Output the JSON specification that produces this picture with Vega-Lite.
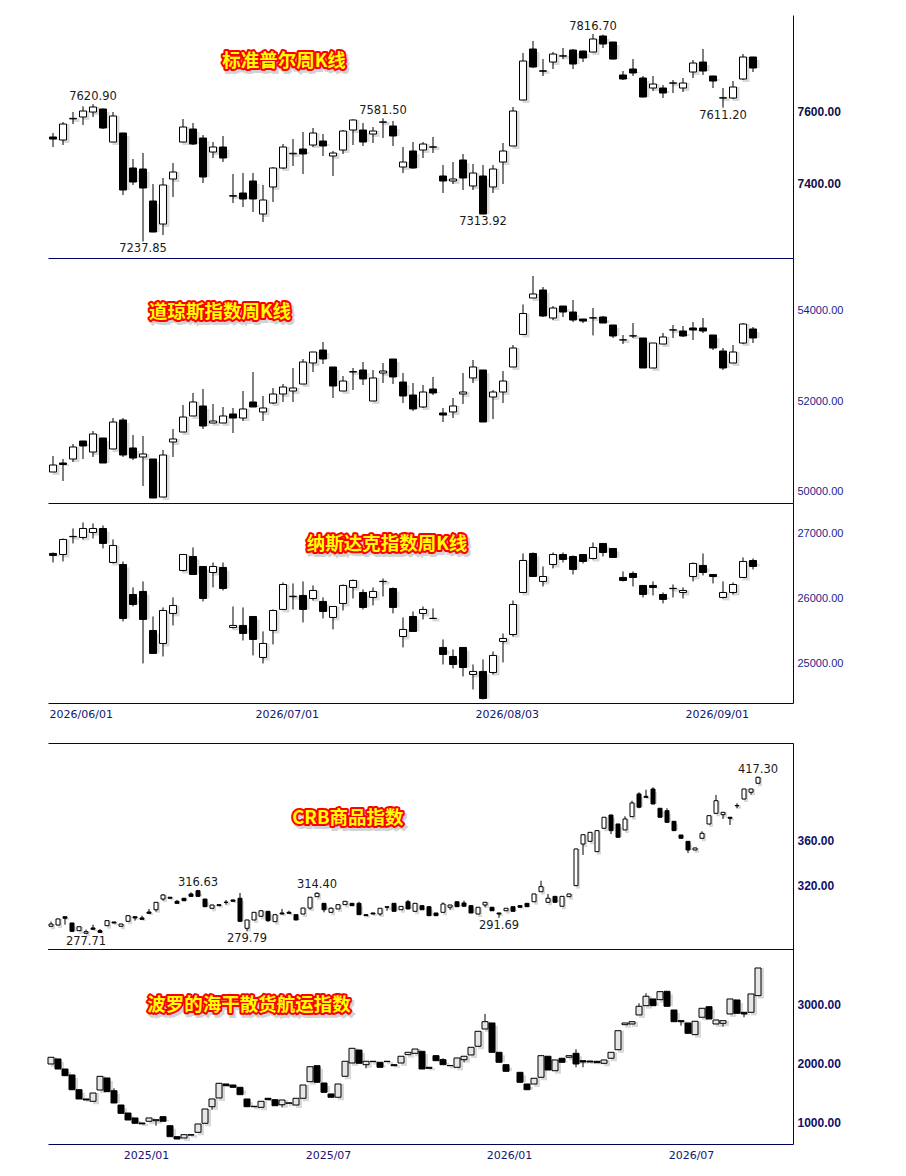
{
"$schema": "https://vega.github.io/schema/vega-lite/v6.json",
"padding": {"left": 47, "top": 15, "right": 5, "bottom": 5},
"background": "white",
"config": {"view": {"stroke": null}, "axis": {"grid": false}, "scale": {"continuousPadding": 0}},
"datasets": {
"titles": [
{"p":"spx","t":"标准普尔周K线","i":23.1,"v":7741},
{"p":"dji","t":"道琼斯指数周K线","i":16.7,"v":53963},
{"p":"ixic","t":"纳斯达克指数周K线","i":33.4,"v":26837},
{"p":"crb","t":"CRB商品指数","i":42.4,"v":380.4},
{"p":"bdi","t":"波罗的海干散货航运指数","i":28.3,"v":3000}
],
"notes": [
{"p":"spx","i":4,"v":7620.90,"kind":"high"},
{"p":"spx","i":9,"v":7237.85,"kind":"low"},
{"p":"spx","i":33,"v":7581.50,"kind":"high"},
{"p":"spx","i":43,"v":7313.92,"kind":"low"},
{"p":"spx","i":54,"v":7816.70,"kind":"high"},
{"p":"spx","i":67,"v":7611.20,"kind":"low"},
{"p":"crb","i":21,"v":316.63,"kind":"high"},
{"p":"crb","i":5,"v":277.71,"kind":"low"},
{"p":"crb","i":28,"v":279.79,"kind":"low"},
{"p":"crb","i":38,"v":314.40,"kind":"high"},
{"p":"crb","i":64,"v":291.69,"kind":"low"},
{"p":"crb","i":101,"v":417.30,"kind":"high"}
],
"spx": [
{"i":0,"o":7529.4,"h":7540.5,"l":7501.5,"c":7523.8},
{"i":1,"o":7521.0,"h":7571.2,"l":7507.0,"c":7565.6},
{"i":2,"o":7580.0,"h":7599.1,"l":7565.6,"c":7581.5},
{"i":3,"o":7585.2,"h":7615.0,"l":7562.8,"c":7601.9},
{"i":4,"o":7599.1,"h":7620.9,"l":7585.2,"c":7613.1},
{"i":5,"o":7607.5,"h":7608.5,"l":7551.7,"c":7554.5},
{"i":6,"o":7515.4,"h":7599.1,"l":7515.0,"c":7588.0},
{"i":7,"o":7540.5,"h":7541.5,"l":7367.5,"c":7381.5},
{"i":8,"o":7442.9,"h":7468.0,"l":7395.5,"c":7403.8},
{"i":9,"o":7440.1,"h":7484.7,"l":7237.85,"c":7387.1},
{"i":10,"o":7350.8,"h":7398.2,"l":7263.5,"c":7264.3},
{"i":11,"o":7286.6,"h":7415.0,"l":7255.9,"c":7395.5},
{"i":12,"o":7412.2,"h":7456.8,"l":7362.0,"c":7431.7},
{"i":13,"o":7515.4,"h":7579.6,"l":7514.5,"c":7557.3},
{"i":14,"o":7551.7,"h":7568.4,"l":7507.0,"c":7509.8},
{"i":15,"o":7526.6,"h":7534.9,"l":7401.0,"c":7417.8},
{"i":16,"o":7487.5,"h":7515.4,"l":7470.8,"c":7501.5},
{"i":17,"o":7501.5,"h":7532.2,"l":7459.6,"c":7470.8},
{"i":18,"o":7365.5,"h":7426.1,"l":7345.2,"c":7364.5},
{"i":19,"o":7373.1,"h":7428.9,"l":7334.1,"c":7356.4},
{"i":20,"o":7406.6,"h":7428.9,"l":7320.1,"c":7356.4},
{"i":21,"o":7314.5,"h":7395.5,"l":7292.2,"c":7353.6},
{"i":22,"o":7389.9,"h":7445.7,"l":7348.0,"c":7442.9},
{"i":23,"o":7442.9,"h":7509.8,"l":7440.1,"c":7501.5},
{"i":24,"o":7482.5,"h":7523.8,"l":7448.5,"c":7484.0},
{"i":25,"o":7495.9,"h":7543.3,"l":7426.1,"c":7482.0},
{"i":26,"o":7507.0,"h":7554.5,"l":7501.5,"c":7540.5},
{"i":27,"o":7518.2,"h":7537.7,"l":7476.4,"c":7504.3},
{"i":28,"o":7476.4,"h":7490.3,"l":7420.6,"c":7484.7},
{"i":29,"o":7493.1,"h":7548.9,"l":7482.0,"c":7546.1},
{"i":30,"o":7548.9,"h":7579.0,"l":7507.0,"c":7576.8},
{"i":31,"o":7548.9,"h":7568.4,"l":7504.3,"c":7515.4},
{"i":32,"o":7537.7,"h":7557.3,"l":7512.6,"c":7546.1},
{"i":33,"o":7570.5,"h":7581.5,"l":7526.6,"c":7571.5},
{"i":34,"o":7560.1,"h":7574.0,"l":7504.3,"c":7532.2},
{"i":35,"o":7445.7,"h":7501.5,"l":7428.9,"c":7459.6},
{"i":36,"o":7490.3,"h":7515.4,"l":7441.0,"c":7442.9},
{"i":37,"o":7493.1,"h":7515.4,"l":7470.8,"c":7509.8},
{"i":38,"o":7501.0,"h":7529.4,"l":7484.7,"c":7502.0},
{"i":39,"o":7420.6,"h":7451.2,"l":7373.1,"c":7406.6},
{"i":40,"o":7406.6,"h":7459.6,"l":7398.2,"c":7412.2},
{"i":41,"o":7465.2,"h":7482.0,"l":7381.5,"c":7415.0},
{"i":42,"o":7392.7,"h":7454.0,"l":7381.5,"c":7428.9},
{"i":43,"o":7420.6,"h":7451.2,"l":7313.92,"c":7314.5},
{"i":44,"o":7389.9,"h":7451.2,"l":7373.1,"c":7440.1},
{"i":45,"o":7459.6,"h":7512.6,"l":7398.2,"c":7490.3},
{"i":46,"o":7504.3,"h":7613.1,"l":7504.0,"c":7601.9},
{"i":47,"o":7632.6,"h":7763.7,"l":7632.0,"c":7741.4},
{"i":48,"o":7774.9,"h":7797.2,"l":7721.9,"c":7724.7},
{"i":49,"o":7714.0,"h":7746.9,"l":7699.6,"c":7713.0},
{"i":50,"o":7738.6,"h":7766.5,"l":7719.1,"c":7760.9},
{"i":51,"o":7755.0,"h":7777.7,"l":7746.9,"c":7756.0},
{"i":52,"o":7772.1,"h":7774.9,"l":7719.1,"c":7733.0},
{"i":53,"o":7769.3,"h":7770.0,"l":7738.6,"c":7749.8},
{"i":54,"o":7766.5,"h":7816.7,"l":7766.0,"c":7802.8},
{"i":55,"o":7811.2,"h":7815.0,"l":7777.7,"c":7788.8},
{"i":56,"o":7794.4,"h":7795.0,"l":7746.0,"c":7746.9},
{"i":57,"o":7702.4,"h":7713.5,"l":7688.4,"c":7691.2},
{"i":58,"o":7719.1,"h":7746.9,"l":7699.6,"c":7708.0},
{"i":59,"o":7694.0,"h":7699.6,"l":7640.0,"c":7641.0},
{"i":60,"o":7666.1,"h":7699.6,"l":7657.7,"c":7677.2},
{"i":61,"o":7666.1,"h":7674.4,"l":7638.2,"c":7652.1},
{"i":62,"o":7679.5,"h":7688.4,"l":7652.1,"c":7680.5},
{"i":63,"o":7666.1,"h":7694.0,"l":7654.9,"c":7680.0},
{"i":64,"o":7710.8,"h":7744.2,"l":7694.0,"c":7735.8},
{"i":65,"o":7738.6,"h":7774.9,"l":7702.4,"c":7713.5},
{"i":66,"o":7699.6,"h":7700.0,"l":7666.1,"c":7685.6},
{"i":67,"o":7638.0,"h":7666.1,"l":7611.2,"c":7639.0},
{"i":68,"o":7638.2,"h":7685.6,"l":7635.4,"c":7668.9},
{"i":69,"o":7691.2,"h":7760.9,"l":7688.4,"c":7752.6},
{"i":70,"o":7752.6,"h":7753.0,"l":7710.8,"c":7721.9}
],
"dji": [
{"i":0,"o":50438,"h":50790,"l":50438,"c":50592},
{"i":1,"o":50636,"h":50724,"l":50240,"c":50603},
{"i":2,"o":50724,"h":51055,"l":50658,"c":50989},
{"i":3,"o":51121,"h":51121,"l":50724,"c":51011},
{"i":4,"o":50878,"h":51341,"l":50768,"c":51275},
{"i":5,"o":51187,"h":51187,"l":50636,"c":50636},
{"i":6,"o":50945,"h":51627,"l":50945,"c":51539},
{"i":7,"o":51583,"h":51627,"l":50768,"c":50812},
{"i":8,"o":50967,"h":51253,"l":50702,"c":50746},
{"i":9,"o":50768,"h":51231,"l":50129,"c":50835},
{"i":10,"o":50724,"h":50724,"l":49865,"c":49865},
{"i":11,"o":49887,"h":50922,"l":49887,"c":50812},
{"i":12,"o":51099,"h":51385,"l":50768,"c":51165},
{"i":13,"o":51319,"h":51914,"l":51319,"c":51649},
{"i":14,"o":51672,"h":52178,"l":51672,"c":51980},
{"i":15,"o":51892,"h":52266,"l":51385,"c":51451},
{"i":16,"o":51517,"h":51936,"l":51517,"c":51561},
{"i":17,"o":51517,"h":51870,"l":51517,"c":51672},
{"i":18,"o":51716,"h":51848,"l":51297,"c":51627},
{"i":19,"o":51627,"h":52222,"l":51561,"c":51826},
{"i":20,"o":51980,"h":52640,"l":51870,"c":51870},
{"i":21,"o":51760,"h":52112,"l":51561,"c":51848},
{"i":22,"o":51958,"h":52288,"l":51936,"c":52156},
{"i":23,"o":52156,"h":52376,"l":51980,"c":52310},
{"i":24,"o":52222,"h":52729,"l":51980,"c":52288},
{"i":25,"o":52376,"h":52927,"l":52376,"c":52861},
{"i":26,"o":52839,"h":53081,"l":52640,"c":53081},
{"i":27,"o":53125,"h":53301,"l":52817,"c":52927},
{"i":28,"o":52751,"h":52751,"l":52068,"c":52332},
{"i":29,"o":52222,"h":52552,"l":52222,"c":52442},
{"i":30,"o":52640,"h":52729,"l":52244,"c":52650},
{"i":31,"o":52685,"h":52861,"l":52354,"c":52487},
{"i":32,"o":52002,"h":52685,"l":52002,"c":52509},
{"i":33,"o":52618,"h":52839,"l":52398,"c":52662},
{"i":34,"o":52927,"h":52927,"l":52376,"c":52531},
{"i":35,"o":52420,"h":52618,"l":51958,"c":52112},
{"i":36,"o":52134,"h":52398,"l":51782,"c":51826},
{"i":37,"o":51870,"h":52354,"l":51848,"c":52200},
{"i":38,"o":52266,"h":52531,"l":52134,"c":52178},
{"i":39,"o":51738,"h":51848,"l":51539,"c":51694},
{"i":40,"o":51760,"h":52068,"l":51627,"c":51892},
{"i":41,"o":52156,"h":52618,"l":51936,"c":52200},
{"i":42,"o":52509,"h":52905,"l":52398,"c":52751},
{"i":43,"o":52685,"h":52685,"l":51539,"c":51539},
{"i":44,"o":52090,"h":52244,"l":51605,"c":52200},
{"i":45,"o":52200,"h":52662,"l":51958,"c":52442},
{"i":46,"o":52751,"h":53235,"l":52751,"c":53169},
{"i":47,"o":53468,"h":54128,"l":53468,"c":53930},
{"i":48,"o":54271,"h":54756,"l":54271,"c":54359},
{"i":49,"o":54447,"h":54513,"l":53852,"c":53874},
{"i":50,"o":53830,"h":54094,"l":53786,"c":54050},
{"i":51,"o":54094,"h":54094,"l":53852,"c":53962},
{"i":52,"o":53962,"h":54227,"l":53742,"c":53786},
{"i":53,"o":53808,"h":53808,"l":53720,"c":53764},
{"i":54,"o":53830,"h":54050,"l":53446,"c":53835},
{"i":55,"o":53852,"h":53874,"l":53720,"c":53720},
{"i":56,"o":53676,"h":53676,"l":53390,"c":53434},
{"i":57,"o":53346,"h":53456,"l":53258,"c":53350},
{"i":58,"o":53434,"h":53720,"l":53390,"c":53438},
{"i":59,"o":53390,"h":53390,"l":52729,"c":52729},
{"i":60,"o":52729,"h":53279,"l":52729,"c":53279},
{"i":61,"o":53257,"h":53500,"l":53257,"c":53412},
{"i":62,"o":53565,"h":53676,"l":53390,"c":53570},
{"i":63,"o":53544,"h":53654,"l":53412,"c":53434},
{"i":64,"o":53610,"h":53742,"l":53346,"c":53566},
{"i":65,"o":53610,"h":53830,"l":53500,"c":53544},
{"i":66,"o":53456,"h":53456,"l":53125,"c":53169},
{"i":67,"o":53103,"h":53169,"l":52685,"c":52729},
{"i":68,"o":52839,"h":53235,"l":52839,"c":53081},
{"i":69,"o":53279,"h":53720,"l":53257,"c":53698},
{"i":70,"o":53588,"h":53632,"l":53279,"c":53390}
],
"ixic": [
{"i":0,"o":26698,"h":26713,"l":26558,"c":26667},
{"i":1,"o":26682,"h":26930,"l":26574,"c":26915},
{"i":2,"o":26958,"h":27085,"l":26853,"c":26962},
{"i":3,"o":26946,"h":27178,"l":26915,"c":27085},
{"i":4,"o":27023,"h":27163,"l":26930,"c":27085},
{"i":5,"o":27085,"h":27132,"l":26775,"c":26853},
{"i":6,"o":26558,"h":26915,"l":26543,"c":26822},
{"i":7,"o":26527,"h":26574,"l":25644,"c":25690},
{"i":8,"o":26062,"h":26171,"l":25876,"c":25907},
{"i":9,"o":26109,"h":26264,"l":24993,"c":25675},
{"i":10,"o":25504,"h":25721,"l":25148,"c":25148},
{"i":11,"o":25303,"h":25861,"l":25101,"c":25814},
{"i":12,"o":25768,"h":26016,"l":25582,"c":25892},
{"i":13,"o":26434,"h":26682,"l":26419,"c":26682},
{"i":14,"o":26651,"h":26791,"l":26372,"c":26372},
{"i":15,"o":26496,"h":26496,"l":25954,"c":26000},
{"i":16,"o":26403,"h":26558,"l":26171,"c":26496},
{"i":17,"o":26481,"h":26558,"l":26124,"c":26155},
{"i":18,"o":25551,"h":25876,"l":25535,"c":25582},
{"i":19,"o":25582,"h":25861,"l":25349,"c":25458},
{"i":20,"o":25721,"h":25721,"l":25117,"c":25365},
{"i":21,"o":25086,"h":25489,"l":24993,"c":25303},
{"i":22,"o":25504,"h":25830,"l":25287,"c":25814},
{"i":23,"o":25830,"h":26248,"l":25830,"c":26217},
{"i":24,"o":26028,"h":26233,"l":25830,"c":26035},
{"i":25,"o":26047,"h":26264,"l":25628,"c":25830},
{"i":26,"o":26000,"h":26202,"l":25969,"c":26124},
{"i":27,"o":25954,"h":26016,"l":25690,"c":25799},
{"i":28,"o":25706,"h":25876,"l":25520,"c":25876},
{"i":29,"o":25923,"h":26217,"l":25814,"c":26202},
{"i":30,"o":26171,"h":26295,"l":26000,"c":26279},
{"i":31,"o":26093,"h":26140,"l":25830,"c":25861},
{"i":32,"o":26016,"h":26171,"l":25892,"c":26109},
{"i":33,"o":26262,"h":26310,"l":26031,"c":26266},
{"i":34,"o":26155,"h":26171,"l":25768,"c":25861},
{"i":35,"o":25411,"h":25706,"l":25241,"c":25520},
{"i":36,"o":25721,"h":25799,"l":25489,"c":25489},
{"i":37,"o":25768,"h":25876,"l":25675,"c":25830},
{"i":38,"o":25690,"h":25845,"l":25690,"c":25692},
{"i":39,"o":25241,"h":25365,"l":24977,"c":25132},
{"i":40,"o":25101,"h":25210,"l":24915,"c":24977},
{"i":41,"o":25241,"h":25241,"l":24791,"c":24930},
{"i":42,"o":24822,"h":24977,"l":24590,"c":24869},
{"i":43,"o":24869,"h":25055,"l":24435,"c":24450},
{"i":44,"o":24853,"h":25179,"l":24822,"c":25117},
{"i":45,"o":25334,"h":25458,"l":25008,"c":25380},
{"i":46,"o":25442,"h":25969,"l":25411,"c":25907},
{"i":47,"o":26093,"h":26698,"l":26093,"c":26589},
{"i":48,"o":26698,"h":26713,"l":26341,"c":26341},
{"i":49,"o":26264,"h":26496,"l":26186,"c":26341},
{"i":50,"o":26527,"h":26713,"l":26465,"c":26682},
{"i":51,"o":26682,"h":26713,"l":26558,"c":26605},
{"i":52,"o":26651,"h":26667,"l":26372,"c":26450},
{"i":53,"o":26682,"h":26682,"l":26543,"c":26574},
{"i":54,"o":26620,"h":26868,"l":26605,"c":26791},
{"i":55,"o":26853,"h":26853,"l":26651,"c":26713},
{"i":56,"o":26775,"h":26775,"l":26636,"c":26636},
{"i":57,"o":26326,"h":26419,"l":26264,"c":26279},
{"i":58,"o":26388,"h":26419,"l":26186,"c":26326},
{"i":59,"o":26202,"h":26202,"l":26016,"c":26062},
{"i":60,"o":26202,"h":26264,"l":26047,"c":26171},
{"i":61,"o":26062,"h":26093,"l":25923,"c":25985},
{"i":62,"o":26153,"h":26217,"l":26016,"c":26157},
{"i":63,"o":26093,"h":26171,"l":26000,"c":26124},
{"i":64,"o":26341,"h":26558,"l":26264,"c":26543},
{"i":65,"o":26512,"h":26698,"l":26357,"c":26403},
{"i":66,"o":26372,"h":26372,"l":26233,"c":26341},
{"i":67,"o":26016,"h":26264,"l":26000,"c":26093},
{"i":68,"o":26093,"h":26248,"l":26062,"c":26217},
{"i":69,"o":26326,"h":26636,"l":26326,"c":26574},
{"i":70,"o":26589,"h":26620,"l":26450,"c":26496}
],
"crb": [
{"i":0,"o":284.2,"h":288.3,"l":284.0,"c":286.2},
{"i":1,"o":285.3,"h":291.0,"l":285.0,"c":290.7},
{"i":2,"o":292.7,"h":292.9,"l":285.6,"c":291.3},
{"i":3,"o":287.1,"h":287.3,"l":279.5,"c":279.7},
{"i":4,"o":280.3,"h":284.0,"l":280.0,"c":283.8},
{"i":5,"o":278.0,"h":281.2,"l":277.71,"c":279.4},
{"i":6,"o":282.7,"h":285.6,"l":281.3,"c":281.5},
{"i":7,"o":280.3,"h":281.8,"l":278.6,"c":278.8},
{"i":8,"o":284.7,"h":289.4,"l":284.5,"c":289.2},
{"i":9,"o":288.0,"h":288.2,"l":286.9,"c":287.1},
{"i":10,"o":284.2,"h":286.4,"l":284.0,"c":286.2},
{"i":11,"o":288.6,"h":293.8,"l":288.4,"c":293.6},
{"i":12,"o":292.7,"h":292.9,"l":289.2,"c":291.6},
{"i":13,"o":291.6,"h":293.6,"l":290.2,"c":290.4},
{"i":14,"o":296.9,"h":299.6,"l":295.5,"c":295.7},
{"i":15,"o":298.9,"h":305.7,"l":297.2,"c":305.5},
{"i":16,"o":308.4,"h":312.9,"l":306.9,"c":312.0},
{"i":17,"o":310.0,"h":310.2,"l":308.9,"c":309.1},
{"i":18,"o":306.4,"h":307.6,"l":304.4,"c":304.6},
{"i":19,"o":309.1,"h":309.3,"l":306.7,"c":306.9},
{"i":20,"o":312.9,"h":314.4,"l":310.6,"c":310.8},
{"i":21,"o":315.8,"h":316.63,"l":310.6,"c":310.8},
{"i":22,"o":308.4,"h":308.6,"l":301.4,"c":301.6},
{"i":23,"o":300.2,"h":303.3,"l":300.0,"c":303.1},
{"i":24,"o":303.4,"h":303.6,"l":302.3,"c":302.5},
{"i":25,"o":305.4,"h":307.6,"l":303.4,"c":305.6},
{"i":26,"o":307.6,"h":307.8,"l":306.2,"c":306.4},
{"i":27,"o":309.1,"h":313.8,"l":288.4,"c":288.6},
{"i":28,"o":282.4,"h":290.0,"l":279.79,"c":289.8},
{"i":29,"o":289.8,"h":296.8,"l":289.6,"c":296.6},
{"i":30,"o":293.1,"h":298.2,"l":292.9,"c":298.0},
{"i":31,"o":297.5,"h":297.7,"l":288.0,"c":289.2},
{"i":32,"o":288.3,"h":294.7,"l":288.1,"c":294.5},
{"i":33,"o":296.0,"h":299.6,"l":294.9,"c":295.1},
{"i":34,"o":296.6,"h":298.0,"l":295.5,"c":295.7},
{"i":35,"o":294.5,"h":294.7,"l":289.6,"c":289.8},
{"i":36,"o":295.1,"h":300.6,"l":294.9,"c":300.4},
{"i":37,"o":300.4,"h":310.2,"l":298.9,"c":310.0},
{"i":38,"o":310.5,"h":314.40,"l":310.3,"c":313.5},
{"i":39,"o":304.6,"h":304.8,"l":296.6,"c":298.9},
{"i":40,"o":296.6,"h":301.1,"l":296.4,"c":300.2},
{"i":41,"o":299.6,"h":303.6,"l":299.4,"c":303.4},
{"i":42,"o":303.4,"h":306.6,"l":303.2,"c":306.4},
{"i":43,"o":304.6,"h":304.8,"l":302.3,"c":302.5},
{"i":44,"o":304.6,"h":306.0,"l":294.3,"c":294.5},
{"i":45,"o":294.5,"h":294.7,"l":293.4,"c":293.6},
{"i":46,"o":296.0,"h":296.2,"l":294.9,"c":295.1},
{"i":47,"o":295.1,"h":300.4,"l":293.6,"c":300.2},
{"i":48,"o":301.6,"h":301.8,"l":298.0,"c":301.1},
{"i":49,"o":304.6,"h":304.8,"l":297.3,"c":297.5},
{"i":50,"o":298.9,"h":302.1,"l":298.7,"c":301.9},
{"i":51,"o":306.0,"h":307.6,"l":299.4,"c":299.6},
{"i":52,"o":297.5,"h":304.8,"l":297.3,"c":304.6},
{"i":53,"o":302.5,"h":302.7,"l":298.7,"c":298.9},
{"i":54,"o":301.6,"h":301.8,"l":293.4,"c":293.6},
{"i":55,"o":296.0,"h":296.2,"l":293.4,"c":293.6},
{"i":56,"o":296.6,"h":305.5,"l":296.4,"c":304.0},
{"i":57,"o":301.1,"h":303.3,"l":298.9,"c":303.1},
{"i":58,"o":306.0,"h":306.2,"l":301.4,"c":301.6},
{"i":59,"o":304.9,"h":306.9,"l":301.8,"c":302.0},
{"i":60,"o":302.5,"h":302.7,"l":295.8,"c":296.0},
{"i":61,"o":295.1,"h":301.3,"l":294.9,"c":301.1},
{"i":62,"o":303.1,"h":305.7,"l":301.1,"c":305.5},
{"i":63,"o":301.1,"h":301.3,"l":297.8,"c":298.0},
{"i":64,"o":296.0,"h":296.2,"l":291.69,"c":295.1},
{"i":65,"o":298.0,"h":300.4,"l":297.8,"c":300.2},
{"i":66,"o":301.6,"h":301.8,"l":297.3,"c":297.5},
{"i":67,"o":302.5,"h":302.7,"l":300.9,"c":301.1},
{"i":68,"o":304.6,"h":304.8,"l":301.4,"c":301.6},
{"i":69,"o":306.0,"h":313.1,"l":305.8,"c":312.9},
{"i":70,"o":314.9,"h":324.7,"l":314.7,"c":319.4},
{"i":71,"o":305.5,"h":312.9,"l":305.3,"c":309.1},
{"i":72,"o":310.8,"h":311.0,"l":305.3,"c":305.5},
{"i":73,"o":302.0,"h":311.0,"l":301.8,"c":310.8},
{"i":74,"o":310.5,"h":313.1,"l":310.3,"c":312.9},
{"i":75,"o":320.3,"h":353.1,"l":320.1,"c":352.9},
{"i":76,"o":357.3,"h":365.8,"l":347.6,"c":365.6},
{"i":77,"o":359.7,"h":367.9,"l":359.5,"c":367.7},
{"i":78,"o":350.5,"h":369.4,"l":350.3,"c":369.2},
{"i":79,"o":371.3,"h":381.3,"l":371.1,"c":381.1},
{"i":80,"o":383.1,"h":383.3,"l":366.2,"c":369.2},
{"i":81,"o":375.1,"h":375.3,"l":363.1,"c":363.3},
{"i":82,"o":369.8,"h":382.0,"l":369.6,"c":379.6},
{"i":83,"o":381.6,"h":395.8,"l":381.4,"c":393.8},
{"i":84,"o":401.8,"h":403.3,"l":389.1,"c":390.0},
{"i":85,"o":399.7,"h":405.6,"l":398.6,"c":398.8},
{"i":86,"o":406.2,"h":407.7,"l":392.7,"c":392.9},
{"i":87,"o":389.1,"h":389.3,"l":380.9,"c":381.1},
{"i":88,"o":386.9,"h":389.1,"l":376.4,"c":376.6},
{"i":89,"o":377.5,"h":377.7,"l":369.0,"c":369.2},
{"i":90,"o":365.3,"h":365.5,"l":362.2,"c":362.4},
{"i":91,"o":359.7,"h":359.9,"l":349.3,"c":352.0},
{"i":92,"o":352.0,"h":354.0,"l":351.8,"c":353.8},
{"i":93,"o":362.4,"h":368.6,"l":362.2,"c":366.8},
{"i":94,"o":375.1,"h":382.7,"l":374.9,"c":382.5},
{"i":95,"o":384.6,"h":400.9,"l":384.4,"c":395.8},
{"i":96,"o":383.4,"h":385.7,"l":379.6,"c":385.5},
{"i":97,"o":381.1,"h":381.3,"l":374.2,"c":380.2},
{"i":98,"o":391.3,"h":393.5,"l":389.1,"c":391.5},
{"i":99,"o":397.3,"h":406.4,"l":397.1,"c":406.2},
{"i":100,"o":403.3,"h":406.4,"l":401.2,"c":406.2},
{"i":101,"o":411.3,"h":417.30,"l":411.1,"c":416.6}
],
"bdi": [
{"i":0,"o":2000,"h":2115,"l":1998,"c":2114},
{"i":1,"o":2085,"h":2086,"l":1914,"c":1915},
{"i":2,"o":1915,"h":1916,"l":1801,"c":1802},
{"i":3,"o":1814,"h":1815,"l":1564,"c":1564},
{"i":4,"o":1564,"h":1565,"l":1407,"c":1407},
{"i":5,"o":1407,"h":1408,"l":1389,"c":1390},
{"i":6,"o":1368,"h":1509,"l":1367,"c":1508},
{"i":7,"o":1559,"h":1792,"l":1558,"c":1791},
{"i":8,"o":1763,"h":1764,"l":1530,"c":1531},
{"i":9,"o":1547,"h":1588,"l":1338,"c":1339},
{"i":10,"o":1305,"h":1306,"l":1164,"c":1164},
{"i":11,"o":1169,"h":1170,"l":1050,"c":1051},
{"i":12,"o":1085,"h":1086,"l":994,"c":995},
{"i":13,"o":1000,"h":1001,"l":984,"c":985},
{"i":14,"o":1029,"h":1085,"l":1028,"c":1085},
{"i":15,"o":1039,"h":1057,"l":954,"c":1056},
{"i":16,"o":1107,"h":1108,"l":1028,"c":1029},
{"i":17,"o":954,"h":955,"l":767,"c":768},
{"i":18,"o":768,"h":769,"l":728,"c":729},
{"i":19,"o":746,"h":802,"l":745,"c":802},
{"i":20,"o":802,"h":803,"l":794,"c":795},
{"i":21,"o":842,"h":984,"l":841,"c":983},
{"i":22,"o":995,"h":1238,"l":994,"c":1237},
{"i":23,"o":1276,"h":1407,"l":1225,"c":1407},
{"i":24,"o":1424,"h":1673,"l":1423,"c":1673},
{"i":25,"o":1661,"h":1662,"l":1631,"c":1632},
{"i":26,"o":1644,"h":1645,"l":1604,"c":1605},
{"i":27,"o":1605,"h":1606,"l":1479,"c":1480},
{"i":28,"o":1407,"h":1408,"l":1276,"c":1276},
{"i":29,"o":1283,"h":1284,"l":1275,"c":1276},
{"i":30,"o":1266,"h":1368,"l":1265,"c":1368},
{"i":31,"o":1419,"h":1420,"l":1394,"c":1395},
{"i":32,"o":1395,"h":1396,"l":1293,"c":1293},
{"i":33,"o":1310,"h":1390,"l":1266,"c":1390},
{"i":34,"o":1334,"h":1343,"l":1333,"c":1342},
{"i":35,"o":1305,"h":1419,"l":1304,"c":1419},
{"i":36,"o":1419,"h":1644,"l":1418,"c":1644},
{"i":37,"o":1700,"h":1954,"l":1699,"c":1954},
{"i":38,"o":1971,"h":1972,"l":1689,"c":1690},
{"i":39,"o":1678,"h":1679,"l":1520,"c":1520},
{"i":40,"o":1492,"h":1493,"l":1435,"c":1436},
{"i":41,"o":1436,"h":1661,"l":1435,"c":1661},
{"i":42,"o":1792,"h":2046,"l":1791,"c":2046},
{"i":43,"o":2017,"h":2266,"l":2016,"c":2266},
{"i":44,"o":2237,"h":2238,"l":2011,"c":2012},
{"i":45,"o":1988,"h":2046,"l":1927,"c":2046},
{"i":46,"o":2040,"h":2047,"l":2039,"c":2046},
{"i":47,"o":2029,"h":2030,"l":1944,"c":1944},
{"i":48,"o":2046,"h":2047,"l":2039,"c":2040},
{"i":49,"o":1988,"h":1989,"l":1971,"c":1971},
{"i":50,"o":2017,"h":2131,"l":2016,"c":2131},
{"i":51,"o":2158,"h":2198,"l":2157,"c":2198},
{"i":52,"o":2181,"h":2254,"l":2180,"c":2254},
{"i":53,"o":2215,"h":2216,"l":1915,"c":1915},
{"i":54,"o":1944,"h":1945,"l":1927,"c":1927},
{"i":55,"o":2141,"h":2152,"l":2055,"c":2056},
{"i":56,"o":2073,"h":2097,"l":1988,"c":1988},
{"i":57,"o":1975,"h":1976,"l":1970,"c":1971},
{"i":58,"o":1944,"h":2102,"l":1943,"c":2102},
{"i":59,"o":2073,"h":2131,"l":2029,"c":2131},
{"i":60,"o":2153,"h":2283,"l":2152,"c":2283},
{"i":61,"o":2300,"h":2554,"l":2299,"c":2554},
{"i":62,"o":2593,"h":2848,"l":2592,"c":2717},
{"i":63,"o":2695,"h":2696,"l":2198,"c":2198},
{"i":64,"o":2198,"h":2199,"l":2029,"c":2029},
{"i":65,"o":1988,"h":1989,"l":1876,"c":1876},
{"i":67,"o":1859,"h":1860,"l":1690,"c":1690},
{"i":68,"o":1661,"h":1662,"l":1564,"c":1564},
{"i":69,"o":1661,"h":1758,"l":1660,"c":1758},
{"i":70,"o":1775,"h":2141,"l":1774,"c":2141},
{"i":71,"o":2131,"h":2132,"l":1898,"c":1898},
{"i":72,"o":1886,"h":2068,"l":1885,"c":2068},
{"i":73,"o":2097,"h":2098,"l":2029,"c":2029},
{"i":74,"o":2114,"h":2141,"l":2113,"c":2141},
{"i":75,"o":2181,"h":2249,"l":1944,"c":2000},
{"i":76,"o":2056,"h":2057,"l":1944,"c":2034},
{"i":77,"o":2050,"h":2051,"l":2033,"c":2034},
{"i":78,"o":2046,"h":2047,"l":2021,"c":2022},
{"i":79,"o":2012,"h":2068,"l":2011,"c":2068},
{"i":80,"o":2097,"h":2198,"l":2096,"c":2198},
{"i":81,"o":2242,"h":2564,"l":2241,"c":2564},
{"i":82,"o":2666,"h":2695,"l":2665,"c":2695},
{"i":83,"o":2678,"h":2717,"l":2677,"c":2717},
{"i":84,"o":2831,"h":3029,"l":2830,"c":2978},
{"i":85,"o":2988,"h":3198,"l":2987,"c":3148},
{"i":86,"o":3102,"h":3103,"l":2988,"c":2988},
{"i":87,"o":3090,"h":3226,"l":3089,"c":3226},
{"i":88,"o":3232,"h":3233,"l":2978,"c":2978},
{"i":89,"o":2915,"h":2916,"l":2717,"c":2717},
{"i":90,"o":2734,"h":2735,"l":2649,"c":2717},
{"i":91,"o":2695,"h":2696,"l":2520,"c":2520},
{"i":92,"o":2497,"h":2724,"l":2496,"c":2724},
{"i":93,"o":2792,"h":2944,"l":2791,"c":2944},
{"i":94,"o":2971,"h":2972,"l":2763,"c":2763},
{"i":95,"o":2678,"h":2746,"l":2677,"c":2746},
{"i":96,"o":2690,"h":2734,"l":2632,"c":2734},
{"i":97,"o":2848,"h":3102,"l":2847,"c":3102},
{"i":98,"o":3085,"h":3086,"l":2859,"c":2859},
{"i":99,"o":2876,"h":2877,"l":2792,"c":2848},
{"i":100,"o":2876,"h":3187,"l":2875,"c":3187},
{"i":101,"o":3158,"h":3627,"l":3157,"c":3627}
]
},
"spacing": 24,
"vconcat": [
{"spacing": 0, "vconcat": [
{"width": 745, "height": 243,
 "encoding": {"x": {"field": "i", "type": "quantitative", "title": null, "scale": {"domain": [-0.5, 74], "nice": false, "zero": false, "padding": 0}, "axis": {"orient": "bottom", "labels": false, "ticks": false, "domainColor": "#000060", "title": null}}},
 "layer": [
  {"data": {"name": "spx"}, "mark": {"type": "bar", "size": 7, "fill": "#808080", "opacity": 0.3, "xOffset": 3, "yOffset": 3}, "encoding": {"y": {"field": "o", "type": "quantitative", "title": null, "scale": {"domain": [7191.8, 7869.8], "nice": false, "zero": false}, "axis": {"orient": "right", "values": [7400, 7600], "format": ".2f", "ticks": false, "labelPadding": 4, "labelFont": "Liberation Sans", "labelFontSize": 12, "labelFontWeight": "bold", "labelColor": "#10104a", "domainColor": "#000060", "title": null}}, "y2": {"field": "c"}}},
  {"data": {"name": "spx"}, "mark": {"type": "rule", "color": "#000000", "strokeWidth": 1}, "encoding": {"y": {"field": "l", "type": "quantitative", "title": null}, "y2": {"field": "h"}}},
  {"data": {"name": "spx"}, "mark": {"type": "bar", "size": 7, "stroke": "#000000", "strokeWidth": 1}, "encoding": {"y": {"field": "o", "type": "quantitative", "title": null}, "y2": {"field": "c"}, "fill": {"condition": {"test": "datum.c >= datum.o", "value": "#ffffff"}, "value": "#000000"}}},
  {"data": {"name": "titles"}, "transform": [{"filter": "datum.p == 'spx'"}], "mark": {"type": "text", "font": "Noto Sans CJK SC", "fontWeight": "bold", "fontSize": 18.5, "fill": "#808080", "stroke": "#808080", "strokeWidth": 4, "opacity": 0.35, "xOffset": 2, "yOffset": 3}, "encoding": {"y": {"field": "v", "type": "quantitative", "title": null}, "text": {"field": "t"}}},
  {"data": {"name": "titles"}, "transform": [{"filter": "datum.p == 'spx'"}], "mark": {"type": "text", "font": "Noto Sans CJK SC", "fontWeight": "bold", "fontSize": 18.5, "fill": "#ff0000", "stroke": "#ff0000", "strokeWidth": 4, "strokeJoin": "round"}, "encoding": {"y": {"field": "v", "type": "quantitative", "title": null}, "text": {"field": "t"}}},
  {"data": {"name": "titles"}, "transform": [{"filter": "datum.p == 'spx'"}], "mark": {"type": "text", "font": "Noto Sans CJK SC", "fontWeight": "bold", "fontSize": 18.5, "fill": "#ffff00"}, "encoding": {"y": {"field": "v", "type": "quantitative", "title": null}, "text": {"field": "t"}}},
  {"data": {"name": "notes"}, "transform": [{"filter": "datum.p == 'spx' && datum.kind == 'high'"}], "mark": {"type": "text", "baseline": "bottom", "dy": -2, "font": "DejaVu Sans", "fontSize": 11.5, "fill": "#1a1a1a"}, "encoding": {"y": {"field": "v", "type": "quantitative", "title": null}, "text": {"field": "v", "type": "quantitative", "format": ".2f"}}},
  {"data": {"name": "notes"}, "transform": [{"filter": "datum.p == 'spx' && datum.kind == 'low'"}], "mark": {"type": "text", "baseline": "top", "dy": 2, "font": "DejaVu Sans", "fontSize": 11.5, "fill": "#1a1a1a"}, "encoding": {"y": {"field": "v", "type": "quantitative", "title": null}, "text": {"field": "v", "type": "quantitative", "format": ".2f"}}}
 ]},
{"width": 745, "height": 245,
 "encoding": {"x": {"field": "i", "type": "quantitative", "title": null, "scale": {"domain": [-0.5, 74], "nice": false, "zero": false, "padding": 0}, "axis": {"orient": "bottom", "labels": false, "ticks": false, "domainColor": "#000060", "title": null}}},
 "layer": [
  {"data": {"name": "dji"}, "mark": {"type": "bar", "size": 7, "fill": "#808080", "opacity": 0.3, "xOffset": 3, "yOffset": 3}, "encoding": {"y": {"field": "o", "type": "quantitative", "title": null, "scale": {"domain": [49755, 55152], "nice": false, "zero": false}, "axis": {"orient": "right", "values": [50000, 52000, 54000], "format": ".2f", "ticks": false, "labelPadding": 4, "labelFont": "Liberation Sans", "labelFontSize": 11, "labelColor": "#1c1c8c", "domainColor": "#000060", "title": null}}, "y2": {"field": "c"}}},
  {"data": {"name": "dji"}, "mark": {"type": "rule", "color": "#000000", "strokeWidth": 1}, "encoding": {"y": {"field": "l", "type": "quantitative", "title": null}, "y2": {"field": "h"}}},
  {"data": {"name": "dji"}, "mark": {"type": "bar", "size": 7, "stroke": "#000000", "strokeWidth": 1}, "encoding": {"y": {"field": "o", "type": "quantitative", "title": null}, "y2": {"field": "c"}, "fill": {"condition": {"test": "datum.c >= datum.o", "value": "#ffffff"}, "value": "#000000"}}},
  {"data": {"name": "titles"}, "transform": [{"filter": "datum.p == 'dji'"}], "mark": {"type": "text", "font": "Noto Sans CJK SC", "fontWeight": "bold", "fontSize": 18.5, "fill": "#808080", "stroke": "#808080", "strokeWidth": 4, "opacity": 0.35, "xOffset": 2, "yOffset": 3}, "encoding": {"y": {"field": "v", "type": "quantitative", "title": null}, "text": {"field": "t"}}},
  {"data": {"name": "titles"}, "transform": [{"filter": "datum.p == 'dji'"}], "mark": {"type": "text", "font": "Noto Sans CJK SC", "fontWeight": "bold", "fontSize": 18.5, "fill": "#ff0000", "stroke": "#ff0000", "strokeWidth": 4, "strokeJoin": "round"}, "encoding": {"y": {"field": "v", "type": "quantitative", "title": null}, "text": {"field": "t"}}},
  {"data": {"name": "titles"}, "transform": [{"filter": "datum.p == 'dji'"}], "mark": {"type": "text", "font": "Noto Sans CJK SC", "fontWeight": "bold", "fontSize": 18.5, "fill": "#ffff00"}, "encoding": {"y": {"field": "v", "type": "quantitative", "title": null}, "text": {"field": "t"}}}
 ]},
{"width": 745, "height": 200,
 "encoding": {"x": {"field": "i", "type": "quantitative", "title": null, "scale": {"domain": [-0.5, 74], "nice": false, "zero": false, "padding": 0}, "axis": {"orient": "bottom", "values": [-0.4, 20.2, 42.2, 63.2], "labelExpr": "datum.value < 10 ? '2026/06/01' : datum.value < 30 ? '2026/07/01' : datum.value < 50 ? '2026/08/03' : '2026/09/01'", "labelAlign": "left", "labelPadding": 5, "labelFont": "DejaVu Sans", "labelFontSize": 11, "labelColor": "#141470", "labelOverlap": false, "labelFlush": false, "labelBound": false, "ticks": false, "domainColor": "#000060", "title": null}}},
 "layer": [
  {"data": {"name": "ixic"}, "mark": {"type": "bar", "size": 7, "fill": "#808080", "opacity": 0.3, "xOffset": 3, "yOffset": 3}, "encoding": {"y": {"field": "o", "type": "quantitative", "title": null, "scale": {"domain": [24380, 27480], "nice": false, "zero": false}, "axis": {"orient": "right", "values": [25000, 26000, 27000], "format": ".2f", "ticks": false, "labelPadding": 4, "labelFont": "Liberation Sans", "labelFontSize": 11, "labelColor": "#1c1c8c", "domainColor": "#000060", "title": null}}, "y2": {"field": "c"}}},
  {"data": {"name": "ixic"}, "mark": {"type": "rule", "color": "#000000", "strokeWidth": 1}, "encoding": {"y": {"field": "l", "type": "quantitative", "title": null}, "y2": {"field": "h"}}},
  {"data": {"name": "ixic"}, "mark": {"type": "bar", "size": 7, "stroke": "#000000", "strokeWidth": 1}, "encoding": {"y": {"field": "o", "type": "quantitative", "title": null}, "y2": {"field": "c"}, "fill": {"condition": {"test": "datum.c >= datum.o", "value": "#ffffff"}, "value": "#000000"}}},
  {"data": {"name": "titles"}, "transform": [{"filter": "datum.p == 'ixic'"}], "mark": {"type": "text", "font": "Noto Sans CJK SC", "fontWeight": "bold", "fontSize": 18.5, "fill": "#808080", "stroke": "#808080", "strokeWidth": 4, "opacity": 0.35, "xOffset": 2, "yOffset": 3}, "encoding": {"y": {"field": "v", "type": "quantitative", "title": null}, "text": {"field": "t"}}},
  {"data": {"name": "titles"}, "transform": [{"filter": "datum.p == 'ixic'"}], "mark": {"type": "text", "font": "Noto Sans CJK SC", "fontWeight": "bold", "fontSize": 18.5, "fill": "#ff0000", "stroke": "#ff0000", "strokeWidth": 4, "strokeJoin": "round"}, "encoding": {"y": {"field": "v", "type": "quantitative", "title": null}, "text": {"field": "t"}}},
  {"data": {"name": "titles"}, "transform": [{"filter": "datum.p == 'ixic'"}], "mark": {"type": "text", "font": "Noto Sans CJK SC", "fontWeight": "bold", "fontSize": 18.5, "fill": "#ffff00"}, "encoding": {"y": {"field": "v", "type": "quantitative", "title": null}, "text": {"field": "t"}}}
 ]}
]},
{"spacing": 0, "vconcat": [
{"width": 745, "height": 206,
 "resolve": {"axis": {"x": "independent"}},
 "encoding": {"x": {"field": "i", "type": "quantitative", "title": null, "scale": {"domain": [-0.4286, 106], "nice": false, "zero": false, "padding": 0}, "axis": {"orient": "bottom", "labels": false, "ticks": false, "domainColor": "#000060", "title": null}}},
 "layer": [
  {"data": {"name": "crb"}, "mark": {"type": "bar", "size": 4, "fill": "#808080", "opacity": 0.3, "xOffset": 2, "yOffset": 3}, "encoding": {"x": {"field": "i", "type": "quantitative", "title": null, "axis": {"orient": "top", "labels": false, "ticks": false, "domainColor": "#000060", "title": null}}, "y": {"field": "o", "type": "quantitative", "title": null, "scale": {"domain": [264.0, 447.1], "nice": false, "zero": false}, "axis": {"orient": "right", "values": [320, 360], "format": ".2f", "ticks": false, "labelPadding": 4, "labelFont": "Liberation Sans", "labelFontSize": 12, "labelFontWeight": "bold", "labelColor": "#10106a", "domainColor": "#000060", "title": null}}, "y2": {"field": "c"}}},
  {"data": {"name": "crb"}, "mark": {"type": "rule", "color": "#000000", "strokeWidth": 1}, "encoding": {"y": {"field": "l", "type": "quantitative", "title": null}, "y2": {"field": "h"}}},
  {"data": {"name": "crb"}, "mark": {"type": "bar", "size": 4, "stroke": "#000000", "strokeWidth": 1}, "encoding": {"y": {"field": "o", "type": "quantitative", "title": null}, "y2": {"field": "c"}, "fill": {"condition": {"test": "datum.c >= datum.o", "value": "#ffffff"}, "value": "#000000"}}},
  {"data": {"name": "titles"}, "transform": [{"filter": "datum.p == 'crb'"}], "mark": {"type": "text", "font": "Noto Sans CJK SC", "fontWeight": "bold", "fontSize": 18.5, "fill": "#808080", "stroke": "#808080", "strokeWidth": 4, "opacity": 0.35, "xOffset": 2, "yOffset": 3}, "encoding": {"y": {"field": "v", "type": "quantitative", "title": null}, "text": {"field": "t"}}},
  {"data": {"name": "titles"}, "transform": [{"filter": "datum.p == 'crb'"}], "mark": {"type": "text", "font": "Noto Sans CJK SC", "fontWeight": "bold", "fontSize": 18.5, "fill": "#ff0000", "stroke": "#ff0000", "strokeWidth": 4, "strokeJoin": "round"}, "encoding": {"y": {"field": "v", "type": "quantitative", "title": null}, "text": {"field": "t"}}},
  {"data": {"name": "titles"}, "transform": [{"filter": "datum.p == 'crb'"}], "mark": {"type": "text", "font": "Noto Sans CJK SC", "fontWeight": "bold", "fontSize": 18.5, "fill": "#ffff00"}, "encoding": {"y": {"field": "v", "type": "quantitative", "title": null}, "text": {"field": "t"}}},
  {"data": {"name": "notes"}, "transform": [{"filter": "datum.p == 'crb' && datum.kind == 'high'"}], "mark": {"type": "text", "baseline": "bottom", "dy": -2, "font": "DejaVu Sans", "fontSize": 11.5, "fill": "#1a1a1a"}, "encoding": {"y": {"field": "v", "type": "quantitative", "title": null}, "text": {"field": "v", "type": "quantitative", "format": ".2f"}}},
  {"data": {"name": "notes"}, "transform": [{"filter": "datum.p == 'crb' && datum.kind == 'low'"}], "mark": {"type": "text", "baseline": "top", "dy": 2, "font": "DejaVu Sans", "fontSize": 11.5, "fill": "#1a1a1a"}, "encoding": {"y": {"field": "v", "type": "quantitative", "title": null}, "text": {"field": "v", "type": "quantitative", "format": ".2f"}}}
 ]},
{"width": 745, "height": 195,
 "encoding": {"x": {"field": "i", "type": "quantitative", "title": null, "scale": {"domain": [-0.4286, 106], "nice": false, "zero": false, "padding": 0}, "axis": {"orient": "bottom", "values": [13.57, 39.57, 65.43, 91.43], "labelExpr": "datum.value < 20 ? '2025/01' : datum.value < 50 ? '2025/07' : datum.value < 80 ? '2026/01' : '2026/07'", "labelAlign": "center", "labelPadding": 5, "labelFont": "DejaVu Sans", "labelFontSize": 11, "labelColor": "#141470", "labelOverlap": false, "labelFlush": false, "labelBound": false, "ticks": false, "domainColor": "#000060", "title": null}}},
 "layer": [
  {"data": {"name": "bdi"}, "mark": {"type": "bar", "size": 6, "fill": "#808080", "opacity": 0.3, "xOffset": 3, "yOffset": 3}, "encoding": {"y": {"field": "o", "type": "quantitative", "title": null, "scale": {"domain": [644, 3949], "nice": false, "zero": false}, "axis": {"orient": "right", "values": [1000, 2000, 3000], "format": ".2f", "ticks": false, "labelPadding": 4, "labelFont": "Liberation Sans", "labelFontSize": 12, "labelFontWeight": "bold", "labelColor": "#10106a", "domainColor": "#000060", "title": null}}, "y2": {"field": "c"}}},
  {"data": {"name": "bdi"}, "mark": {"type": "rule", "color": "#000000", "strokeWidth": 1}, "encoding": {"y": {"field": "l", "type": "quantitative", "title": null}, "y2": {"field": "h"}}},
  {"data": {"name": "bdi"}, "mark": {"type": "bar", "size": 6, "stroke": "#000000", "strokeWidth": 1}, "encoding": {"y": {"field": "o", "type": "quantitative", "title": null}, "y2": {"field": "c"}, "fill": {"condition": {"test": "datum.c >= datum.o", "value": "#e6e6e6"}, "value": "#000000"}}},
  {"data": {"name": "titles"}, "transform": [{"filter": "datum.p == 'bdi'"}], "mark": {"type": "text", "font": "Noto Sans CJK SC", "fontWeight": "bold", "fontSize": 18.5, "fill": "#808080", "stroke": "#808080", "strokeWidth": 4, "opacity": 0.35, "xOffset": 2, "yOffset": 3}, "encoding": {"y": {"field": "v", "type": "quantitative", "title": null}, "text": {"field": "t"}}},
  {"data": {"name": "titles"}, "transform": [{"filter": "datum.p == 'bdi'"}], "mark": {"type": "text", "font": "Noto Sans CJK SC", "fontWeight": "bold", "fontSize": 18.5, "fill": "#ff0000", "stroke": "#ff0000", "strokeWidth": 4, "strokeJoin": "round"}, "encoding": {"y": {"field": "v", "type": "quantitative", "title": null}, "text": {"field": "t"}}},
  {"data": {"name": "titles"}, "transform": [{"filter": "datum.p == 'bdi'"}], "mark": {"type": "text", "font": "Noto Sans CJK SC", "fontWeight": "bold", "fontSize": 18.5, "fill": "#ffff00"}, "encoding": {"y": {"field": "v", "type": "quantitative", "title": null}, "text": {"field": "t"}}}
 ]}
]}
]
}
